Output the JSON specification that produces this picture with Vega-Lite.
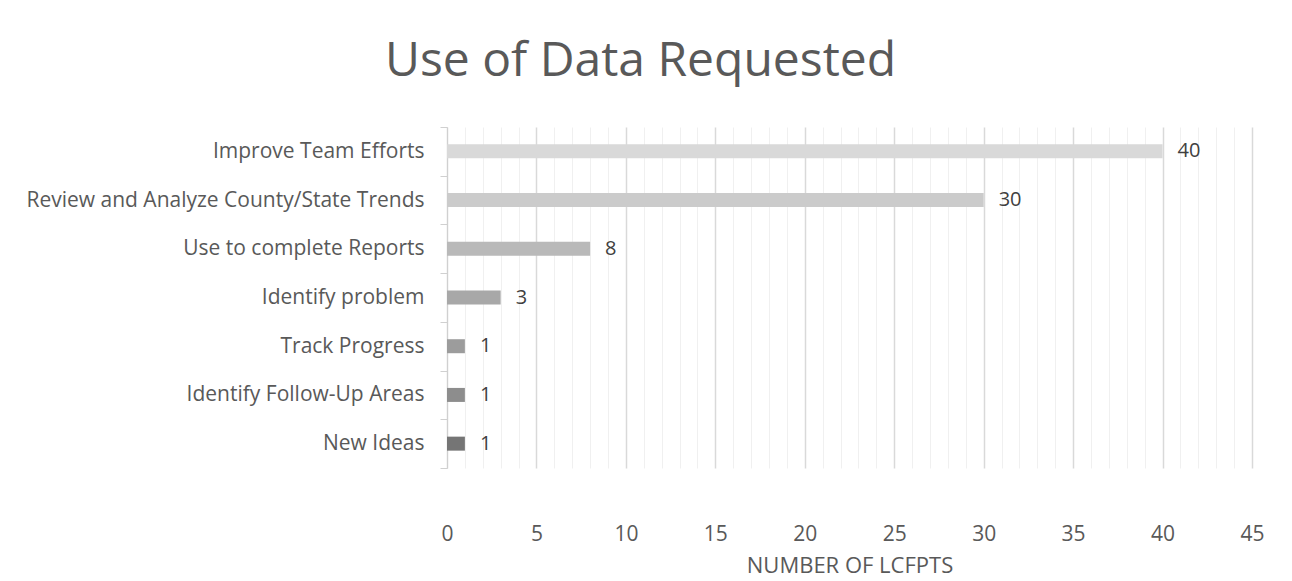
{
  "$schema": "https://vega.github.io/schema/vega-lite/v6.json",
  "width": 805,
  "height": 341,
  "autosize": {"type": "none"},
  "padding": {"left": 447, "top": 127, "right": 40, "bottom": 113},
  "background": "white",
  "config": {"view": {"stroke": null}, "font": "Open Sans"},
  "title": {
    "text": "Use of Data Requested",
    "fontSize": 48,
    "font": "Open Sans",
    "fontWeight": "normal",
    "color": "#595959",
    "anchor": "middle",
    "frame": "group",
    "dx": -209,
    "offset": 30
  },
  "data": {
    "values": [
      {"use": "Improve Team Efforts", "count": 40},
      {"use": "Review and Analyze County/State Trends", "count": 30},
      {"use": "Use to complete Reports", "count": 8},
      {"use": "Identify problem", "count": 3},
      {"use": "Track Progress", "count": 1},
      {"use": "Identify Follow-Up Areas", "count": 1},
      {"use": "New Ideas", "count": 1}
    ]
  },
  "encoding": {
    "y": {
      "field": "use",
      "type": "nominal",
      "sort": null,
      "scale": {"paddingInner": 0, "paddingOuter": 0},
      "axis": {
        "title": null,
        "labelFontSize": 21,
        "labelColor": "#595959",
        "labelPadding": 16,
        "labelLimit": 600,
        "tickSize": 7,
        "tickColor": "#d0d0d0",
        "domainColor": "#d0d0d0",
        "tickBand": "extent",
        "grid": false
      }
    },
    "x": {
      "field": "count",
      "type": "quantitative",
      "scale": {"domain": [0, 45], "nice": false},
      "axis": {
        "values": [0,1,2,3,4,5,6,7,8,9,10,11,12,13,14,15,16,17,18,19,20,21,22,23,24,25,26,27,28,29,30,31,32,33,34,35,36,37,38,39,40,41,42,43,44,45],
        "labelExpr": "datum.value % 5 === 0 ? datum.label : ''",
        "grid": true,
        "gridColor": {"condition": {"test": "datum.value % 5 === 0", "value": "#d9d9d9"}, "value": "#f0f0f0"},
        "gridWidth": {"condition": {"test": "datum.value % 5 === 0", "value": 1.5}, "value": 1},
        "ticks": false,
        "domain": false,
        "labelFontSize": 21,
        "labelColor": "#595959",
        "labelPadding": 55,
        "title": "NUMBER OF LCFPTS",
        "titleFontSize": 22,
        "titleFontWeight": "normal",
        "titleColor": "#595959",
        "titlePadding": 11,
        "labelFlush": false,
        "labelOverlap": false
      }
    }
  },
  "layer": [
    {
      "mark": {"type": "bar", "size": 14},
      "encoding": {
        "color": {
          "field": "use",
          "type": "nominal",
          "legend": null,
          "scale": {
            "domain": ["Improve Team Efforts", "Review and Analyze County/State Trends", "Use to complete Reports", "Identify problem", "Track Progress", "Identify Follow-Up Areas", "New Ideas"],
            "range": ["#d9d9d9", "#cbcbcb", "#b9b9b9", "#a8a8a8", "#9c9c9c", "#8d8d8d", "#757575"]
          }
        }
      }
    },
    {
      "mark": {"type": "text", "align": "left", "baseline": "middle", "dx": 15, "fontSize": 20, "color": "#404040"},
      "encoding": {"text": {"field": "count", "type": "quantitative"}}
    }
  ]
}
